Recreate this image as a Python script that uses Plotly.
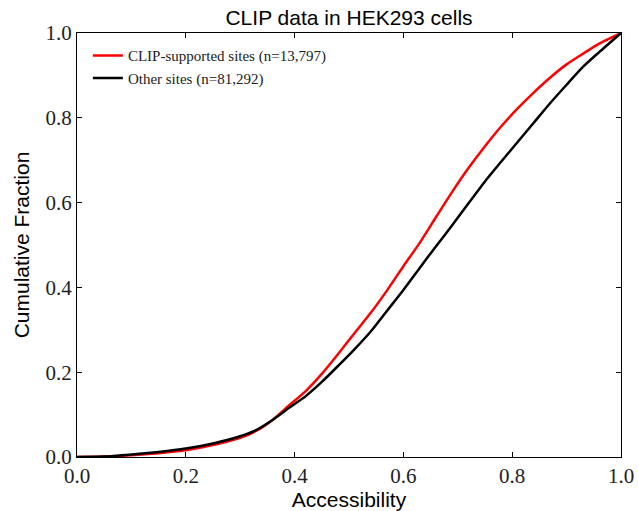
import plotly.graph_objects as go

# Accessibility grid
x_vals = [0, 0.05, 0.1, 0.15, 0.2, 0.25, 0.3, 0.33, 0.36, 0.39, 0.42, 0.45, 0.48, 0.51,
          0.54, 0.57, 0.60, 0.63, 0.66, 0.69, 0.72, 0.75, 0.78, 0.81, 0.84, 0.87, 0.90,
          0.93, 0.96, 1.0]

clip_cdf = [0, 0.001, 0.004, 0.009, 0.016, 0.028, 0.045, 0.062, 0.088, 0.122, 0.155,
            0.196, 0.243, 0.292, 0.340, 0.393, 0.450, 0.505, 0.566, 0.626, 0.682, 0.733,
            0.780, 0.822, 0.860, 0.895, 0.926, 0.951, 0.975, 1.0]

other_cdf = [0, 0.001, 0.006, 0.012, 0.020, 0.032, 0.049, 0.064, 0.088, 0.116, 0.143,
             0.177, 0.215, 0.254, 0.296, 0.345, 0.394, 0.446, 0.497, 0.547, 0.599, 0.650,
             0.697, 0.743, 0.789, 0.835, 0.878, 0.920, 0.955, 1.0]

series_names = ["CLIP-supported sites (n=13,797)", "Other sites (n=81,292)"]
tick_vals = [0.0, 0.2, 0.4, 0.6, 0.8, 1.0]
tick_labels = ["0.0", "0.2", "0.4", "0.6", "0.8", "1.0"]

fig = go.Figure()
fig.add_trace(go.Scatter(x=x_vals, y=clip_cdf, mode="lines", name=series_names[0],
                         line=dict(color="#ff0000", width=2.5, shape="spline", smoothing=0.6)))
fig.add_trace(go.Scatter(x=x_vals, y=other_cdf, mode="lines", name=series_names[1],
                         line=dict(color="#000000", width=2.5, shape="spline", smoothing=0.6)))

axis_common = dict(
    range=[0, 1], tickvals=tick_vals, ticktext=tick_labels,
    ticks="inside", ticklen=5, tickwidth=1, tickcolor="black",
    showline=True, linecolor="black", linewidth=1, mirror="allticks",
    showgrid=False, zeroline=False, automargin=False,
    tickfont=dict(family="Liberation Serif, Times New Roman, serif", size=21, color="#222"),
    title_font=dict(family="Liberation Sans, Arial, sans-serif", size=21, color="black"),
)

fig.update_layout(
    width=638, height=511,
    margin=dict(l=77, r=17, t=33, b=54),
    paper_bgcolor="white", plot_bgcolor="white",
    title=dict(text="CLIP data in HEK293 cells", x=0.5, xref="paper", y=0.966, yanchor="middle",
               font=dict(family="Liberation Sans, Arial, sans-serif", size=21, color="black")),
    xaxis=dict(title=dict(text="Accessibility", standoff=0), **axis_common),
    yaxis=dict(title=dict(text="Cumulative Fraction", standoff=10), **axis_common),
    legend=dict(x=0.02, y=0.985, xanchor="left", yanchor="top", bgcolor="rgba(0,0,0,0)",
                borderwidth=0, tracegroupgap=0,
                font=dict(family="Liberation Serif, Times New Roman, serif", size=15, color="#222")),
    showlegend=True,
)

fig.write_html("out.html")
